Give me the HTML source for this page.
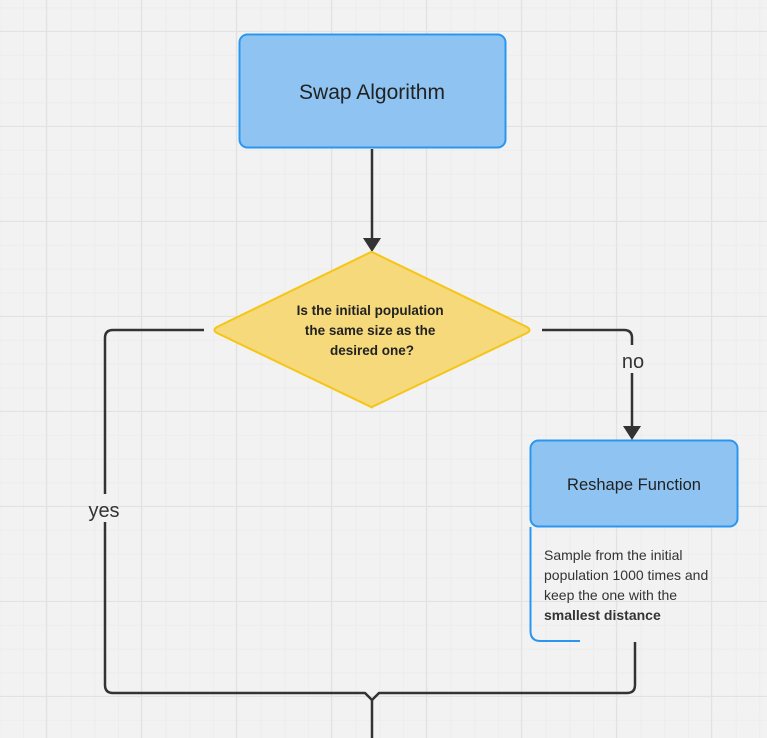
<!DOCTYPE html>
<html><head><meta charset="utf-8"><style>
html,body{margin:0;padding:0;background:#f2f2f2;}
svg{display:block;}
text{font-family:"Liberation Sans","DejaVu Sans",sans-serif;}
</style></head><body>
<svg width="767" height="738" viewBox="0 0 767 738" xmlns="http://www.w3.org/2000/svg">
<defs>
<pattern id="minor" x="0.25" y="8.25" width="23.75" height="23.75" patternUnits="userSpaceOnUse">
<path d="M23.5 0V23.75M0 23.5H23.75" stroke="#ebebeb" stroke-width="1" fill="none"/>
</pattern>
<pattern id="major" x="-48" y="-63" width="95" height="95" patternUnits="userSpaceOnUse">
<path d="M94.5 0V95M0 94.5H95" stroke="#e2e2e2" stroke-width="1.2" fill="none"/>
</pattern>
</defs>
<rect width="767" height="738" fill="#f2f2f2"/>
<rect width="767" height="738" fill="url(#minor)"/>
<rect width="767" height="738" fill="url(#major)"/>

<g stroke="#333" stroke-width="2.5" fill="none" stroke-linejoin="round">
<path d="M372 149V240"/>
<path d="M204 330H113Q105 330 105 338V494"/>
<path d="M105 522V685Q105 693 113 693H365L372 700L379 693H627Q635 693 635 685V642"/>
<path d="M372 700V738"/>
<path d="M542 330H624Q632 330 632 338V345"/>
<path d="M632 373V428"/>
</g>
<path d="M363 238L381 238L372 252Z" fill="#333"/>
<path d="M623 426L641 426L632 440Z" fill="#333"/>

<rect x="239.5" y="34.5" width="266" height="113" rx="8" fill="#8fc4f2" stroke="#2b96f0" stroke-width="2"/>
<text x="372" y="99" font-size="21" fill="#222" text-anchor="middle">Swap Algorithm</text>

<path d="M372 252L527 327Q532 330 527 333L372 407Q372 408 371 407L217 333Q212 330 217 327L371 252Z" fill="#f5d97a" stroke="#f5c518" stroke-width="2"/>
<text font-size="13.5" font-weight="bold" fill="#222" text-anchor="middle">
<tspan x="372" y="315">Is the initial population</tspan>
<tspan x="372" y="335">the same size as the</tspan>
<tspan x="372" y="355">desired one?</tspan>
</text>

<rect x="530.5" y="440.5" width="207" height="86" rx="8" fill="#8fc4f2" stroke="#2b96f0" stroke-width="2"/>
<text x="634" y="490" font-size="16.5" fill="#222" text-anchor="middle">Reshape Function</text>
<path d="M530.5 527V631Q530.5 641 540.5 641H580" stroke="#2b96f0" stroke-width="2" fill="none"/>
<text font-size="14" fill="#333">
<tspan x="544" y="560">Sample from the initial</tspan>
<tspan x="544" y="580">population 1000 times and</tspan>
<tspan x="544" y="600">keep the one with the</tspan>
<tspan x="544" y="620" font-weight="bold">smallest distance</tspan>
</text>

<text x="633" y="368" font-size="20" fill="#333" text-anchor="middle">no</text>
<text x="104" y="517" font-size="20" fill="#333" text-anchor="middle">yes</text>
</svg>
</body></html>
